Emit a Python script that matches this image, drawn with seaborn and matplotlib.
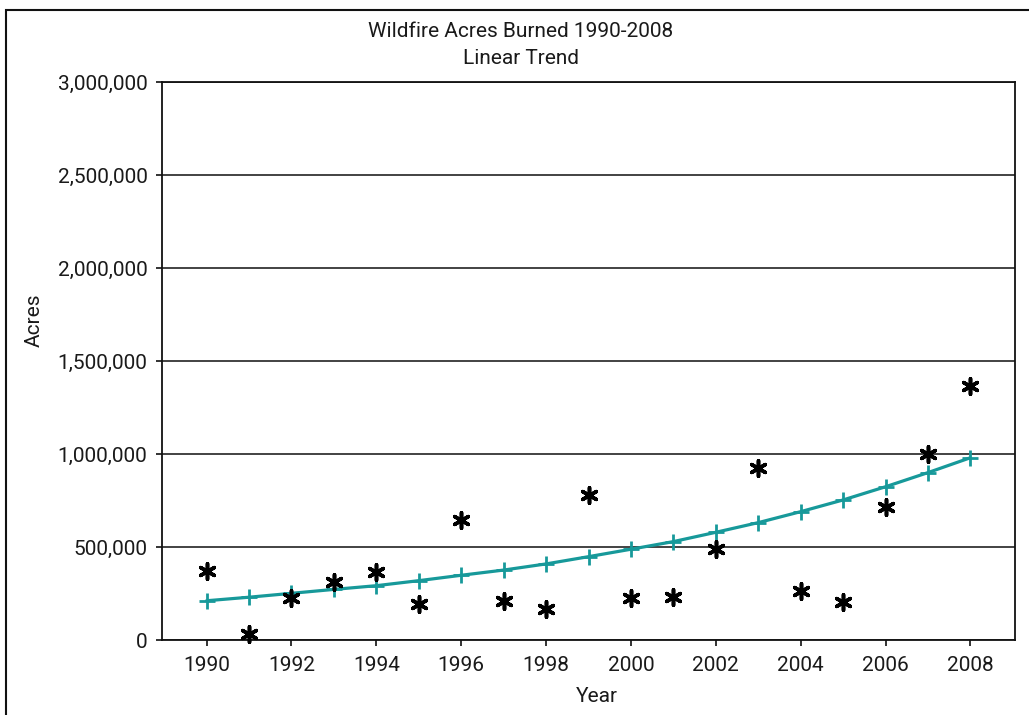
import matplotlib
matplotlib.use("Agg")
import matplotlib.pyplot as plt
from matplotlib.ticker import FuncFormatter, MultipleLocator
from matplotlib.patches import Rectangle
import seaborn as sns
import pandas as pd

years = list(range(1990, 2009))
acres = [372000, 32000, 224000, 313000, 367000, 194000, 645000, 211000, 165000, 780000,
         224000, 230000, 488000, 923000, 265000, 206000, 717000, 998000, 1366000]
trend = [211000, 230000, 251000, 272000, 292000, 319000, 348000, 376000, 409000, 448000,
         488000, 529000, 579000, 631000, 690000, 753000, 824000, 900000, 980000]
xticks = list(range(1990, 2009, 2))
title_lines = ["Wildfire Acres Burned 1990-2008", "Linear Trend"]

df = pd.DataFrame({"Year": years, "Acres": acres, "Trend": trend})

sns.set_theme(style="white")
plt.rcParams["font.family"] = ["Roboto", "DejaVu Sans"]
plt.rcParams["text.color"] = "#1a1a1a"

fig = plt.figure(figsize=(10.29, 7.15), dpi=100)
ax = fig.add_axes([162/1029, 1 - 640/715, (1015-162)/1029, (640-82)/715])

teal = "#17999a"
sns.lineplot(data=df, x="Year", y="Trend", ax=ax, color=teal, linewidth=2.3,
             marker="+", markersize=11, markeredgewidth=2.0, markeredgecolor=teal, zorder=3)
sns.scatterplot(data=df, x="Year", y="Acres", ax=ax, marker=(6, 2, 0), s=125,
                color="black", edgecolor="black", linewidth=2.6, zorder=4)
ax.collections[-1].set_clip_on(False)

ax.set_xlim(1988.95, 2009.05)
ax.set_ylim(0, 3000000)
ax.yaxis.set_major_locator(MultipleLocator(500000))
ax.yaxis.set_major_formatter(FuncFormatter(lambda v, p: f"{v:,.0f}"))
ax.set_xticks(xticks)
ax.set_xticklabels([str(t) for t in xticks])
ax.grid(axis="y", color="#222222", linewidth=1.2)
ax.grid(axis="x", visible=False)
ax.set_axisbelow(True)
for s in ax.spines.values():
    s.set_visible(True)
    s.set_color("#111111")
    s.set_linewidth(1.3)
ax.tick_params(axis="both", which="major", direction="out", length=4.5, width=1.2,
               color="#111111", labelsize=15, labelcolor="#1a1a1a")
ax.tick_params(axis="y", pad=6)
ax.tick_params(axis="x", pad=7, bottom=True)
ax.tick_params(axis="y", left=True)
ax.set_xlabel("")
ax.set_ylabel("")

fig.text(521/1029, 1 - 31.5/715, title_lines[0], ha="center", va="center", fontsize=15)
fig.text(521/1029, 1 - 58/715, title_lines[1], ha="center", va="center", fontsize=15)
fig.text(34.5/1029, 1 - 320/715, "Acres", rotation=90, ha="center", va="center", fontsize=15)
fig.text(597/1029, 1 - 696/715, "Year", ha="center", va="center", fontsize=15)

fig.patches.append(Rectangle((6/1029, -0.1), 1.2, 1 - 10/715 + 0.1, transform=fig.transFigure,
                             fill=False, edgecolor="#111111", linewidth=1.5))

fig.savefig("out.png", dpi=100)
